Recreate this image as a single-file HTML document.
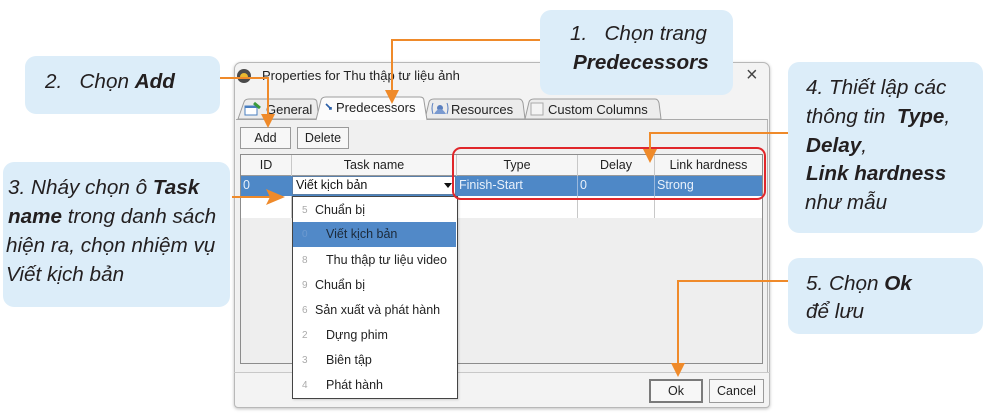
<!DOCTYPE html>
<html><head><meta charset="utf-8">
<style>
html,body{margin:0;padding:0;background:#fff;}
body{width:986px;height:419px;position:relative;overflow:hidden;font-family:"Liberation Sans","DejaVu Sans",sans-serif;}
.a{position:absolute;white-space:pre;}
.box{position:absolute;background:#dcedf9;border-radius:11px;}
.ct{position:absolute;white-space:pre;font-style:italic;font-size:20.7px;color:#231f20;line-height:29px;}
.ct b{font-weight:bold;}
.btn{position:absolute;border:1px solid #9a9a9a;background:#f7f7f7;font-size:12.5px;color:#222;text-align:center;box-sizing:border-box;}
.hd{position:absolute;top:155px;height:20px;line-height:20px;text-align:center;font-size:12.5px;color:#222;}
.it{position:absolute;left:293px;width:163px;height:25px;line-height:25px;font-size:12.5px;color:#222;}
.it .n{position:absolute;left:9px;font-size:10px;color:#aaa;}
.it .t{position:absolute;}
</style></head><body>

<!-- dialog -->
<div style="position:absolute;left:234px;top:62px;width:536px;height:346px;background:#f3f3f3;border:1px solid #b8b8b8;border-radius:7px 7px 4px 4px;box-shadow:0 1px 3px rgba(0,0,0,.25);box-sizing:border-box;"></div>
<!-- title icon -->
<div style="position:absolute;left:237px;top:69px;width:14px;height:14px;border-radius:50%;background:#4a4a4a;"></div>
<div style="position:absolute;left:240px;top:73px;width:8px;height:5px;border-radius:4px 4px 0 0;background:#e8b830;"></div>
<div class="a" style="left:262px;top:68px;font-size:13px;color:#222;">Properties for Thu thập tư liệu ảnh</div>
<div class="a" style="left:746px;top:64px;font-size:20px;color:#444;">×</div>

<!-- tab panel -->
<div style="position:absolute;left:236px;top:119px;width:532px;height:253px;background:#f0f0f0;border-top:1px solid #aaa;border-right:1px solid #b5b5b5;box-sizing:border-box;"></div>
<div style="position:absolute;left:234px;top:372px;width:536px;height:1px;background:#c8c8c8;"></div>

<svg width="986" height="419" style="position:absolute;left:0;top:0;" xmlns="http://www.w3.org/2000/svg">
  <path d="M238,119 L244,102 Q245,99 249,99 L313,99 Q317,99 317,103 L319,119 Z" fill="#ececec" stroke="#9c9c9c"/>
  <path d="M425,119 L429,102 Q430,99 434,99 L519,99 Q522,99 523,103 L525,119 Z" fill="#ececec" stroke="#9c9c9c"/>
  <path d="M525,119 L529,102 Q530,99 534,99 L655,99 Q658,99 659,103 L661,119 Z" fill="#ececec" stroke="#9c9c9c"/>
  <path d="M316,120 L321,100 Q322,97 326,97 L420,97 Q424,97 424,101 L427,120" fill="#fbfbfb" stroke="#9c9c9c"/>
  <!-- General icon -->
  <rect x="245" y="106" width="12" height="9" fill="#fff" stroke="#4a7fc0"/>
  <rect x="245" y="106" width="12" height="2" fill="#4a7fc0"/>
  <path d="M254,103 L260,108" stroke="#3a9a3a" stroke-width="3"/>
  <!-- predecessors icon -->
  <path d="M326,104 L331,109 M329,109 L331,109 L331,107" stroke="#2b5fa8" stroke-width="1.6" fill="none"/>
  <!-- resources icon -->
  <circle cx="440" cy="108" r="3" fill="#5a7fbf"/>
  <path d="M434,114 Q440,104 446,114" fill="#7a9ad0"/>
  <path d="M433,103 Q431,108 433,114 M447,103 Q449,108 447,114" stroke="#5a7fbf" fill="none"/>
  <!-- checkbox -->
  <rect x="531" y="103" width="12" height="12" fill="#f4f4f4" stroke="#aaa"/>
</svg>

<div class="a" style="left:266px;top:102px;font-size:13px;color:#222;">General</div>
<div class="a" style="left:336px;top:100px;font-size:13px;color:#222;">Predecessors</div>
<div class="a" style="left:451px;top:102px;font-size:13px;color:#222;">Resources</div>
<div class="a" style="left:548px;top:102px;font-size:13px;color:#222;">Custom Columns</div>

<!-- buttons -->
<div class="btn" style="left:240px;top:127px;width:51px;height:22px;line-height:20px;">Add</div>
<div class="btn" style="left:297px;top:127px;width:52px;height:22px;line-height:20px;">Delete</div>

<!-- table -->
<div style="position:absolute;left:240px;top:154px;width:523px;height:210px;background:#eeeeee;border:1px solid #8c8c8c;box-sizing:border-box;"></div>
<div style="position:absolute;left:241px;top:155px;width:521px;height:20px;background:#f6f6f6;border-bottom:1px solid #9a9a9a;"></div>
<div style="position:absolute;left:241px;top:196px;width:521px;height:22px;background:#fff;"></div>
<div style="position:absolute;left:291px;top:155px;width:1px;height:63px;background:#c8c8c8;"></div>
<div style="position:absolute;left:456px;top:155px;width:1px;height:63px;background:#c8c8c8;"></div>
<div style="position:absolute;left:577px;top:155px;width:1px;height:63px;background:#c8c8c8;"></div>
<div style="position:absolute;left:654px;top:155px;width:1px;height:63px;background:#c8c8c8;"></div>
<div class="hd" style="left:241px;width:50px;">ID</div>
<div class="hd" style="left:292px;width:164px;">Task name</div>
<div class="hd" style="left:457px;width:120px;">Type</div>
<div class="hd" style="left:578px;width:76px;">Delay</div>
<div class="hd" style="left:655px;width:107px;">Link hardness</div>
<!-- selected row -->
<div style="position:absolute;left:241px;top:176px;width:521px;height:20px;background:#4e88c7;"></div>
<div style="position:absolute;left:577px;top:176px;width:1px;height:20px;background:#9ab8dd;"></div>
<div style="position:absolute;left:654px;top:176px;width:1px;height:20px;background:#9ab8dd;"></div>
<div class="a" style="left:243px;top:178px;font-size:12.5px;color:#e8f0fa;">0</div>
<div style="position:absolute;left:292px;top:176px;width:164px;height:19px;background:#fff;border:1px solid #5a7fa8;box-sizing:border-box;"></div>
<div class="a" style="left:296px;top:178px;font-size:12.5px;color:#111;">Viết kịch bản</div>
<div style="position:absolute;left:444px;top:183px;width:0;height:0;border-left:4px solid transparent;border-right:4px solid transparent;border-top:5px solid #111;"></div>
<div class="a" style="left:459px;top:178px;font-size:12.5px;color:#e8f0fa;">Finish-Start</div>
<div class="a" style="left:580px;top:178px;font-size:12.5px;color:#e8f0fa;">0</div>
<div class="a" style="left:657px;top:178px;font-size:12.5px;color:#e8f0fa;">Strong</div>

<!-- Ok / Cancel -->
<div class="btn" style="left:649px;top:379px;width:54px;height:24px;line-height:20px;border:2px solid #7a7a7a;">Ok</div>
<div class="btn" style="left:709px;top:379px;width:55px;height:24px;line-height:22px;">Cancel</div>

<!-- dropdown list -->
<div style="position:absolute;left:292px;top:196px;width:166px;height:203px;background:#fff;border:1px solid #444;box-sizing:border-box;box-shadow:1px 1px 2px rgba(0,0,0,.15);"></div>
<div class="it" style="top:198px;"><span class="n">5</span><span class="t" style="left:22px;">Chuẩn bị</span></div>
<div class="it" style="top:222px;background:#5189c8;"><span class="n" style="color:#6d9ad0;">0</span><span class="t" style="left:33px;color:#1c2a3a;">Viết kịch bản</span></div>
<div class="it" style="top:248px;"><span class="n">8</span><span class="t" style="left:33px;">Thu thập tư liệu video</span></div>
<div class="it" style="top:273px;"><span class="n">9</span><span class="t" style="left:22px;">Chuẩn bị</span></div>
<div class="it" style="top:298px;"><span class="n">6</span><span class="t" style="left:22px;">Sản xuất và phát hành</span></div>
<div class="it" style="top:323px;"><span class="n">2</span><span class="t" style="left:33px;">Dựng phim</span></div>
<div class="it" style="top:348px;"><span class="n">3</span><span class="t" style="left:33px;">Biên tập</span></div>
<div class="it" style="top:373px;"><span class="n">4</span><span class="t" style="left:33px;">Phát hành</span></div>

<!-- callout boxes -->
<div class="box" style="left:540px;top:10px;width:193px;height:85px;"></div>
<div class="box" style="left:25px;top:56px;width:195px;height:58px;"></div>
<div class="box" style="left:3px;top:162px;width:227px;height:145px;"></div>
<div class="box" style="left:788px;top:62px;width:195px;height:171px;"></div>
<div class="box" style="left:788px;top:258px;width:195px;height:76px;"></div>

<div class="ct" style="left:570px;top:19px;">1.   Chọn trang</div>
<div class="ct" style="left:573px;top:48px;"><b>Predecessors</b></div>

<div class="ct" style="left:45px;top:67px;">2.   Chọn <b>Add</b></div>

<div class="ct" style="left:8px;top:173px;">3. Nháy chọn ô <b>Task</b></div>
<div class="ct" style="left:8px;top:202px;"><b>name</b> trong danh sách</div>
<div class="ct" style="left:6px;top:231px;">hiện ra, chọn nhiệm vụ</div>
<div class="ct" style="left:6px;top:260px;">Viết kịch bản</div>

<div class="ct" style="left:806px;top:73px;">4. Thiết lập các</div>
<div class="ct" style="left:806px;top:102px;">thông tin  <b>Type</b>,</div>
<div class="ct" style="left:806px;top:131px;"><b>Delay</b>,</div>
<div class="ct" style="left:806px;top:159px;"><b>Link hardness</b></div>
<div class="ct" style="left:805px;top:188px;">như mẫu</div>

<div class="ct" style="left:806px;top:269px;">5. Chọn <b>Ok</b></div>
<div class="ct" style="left:806px;top:297px;">để lưu</div>

<!-- connectors & red highlight -->
<svg width="986" height="419" style="position:absolute;left:0;top:0;" xmlns="http://www.w3.org/2000/svg">
  <rect x="453" y="148" width="312" height="51" rx="8" ry="8" fill="none" stroke="#e0262a" stroke-width="2"/>
  <g stroke="#ef8a2a" stroke-width="2" fill="none">
    <path d="M540,40 H392 V92"/>
    <path d="M220,78 H268 V116"/>
    <path d="M232,197 H270"/>
    <path d="M788,133 H650 V151"/>
    <path d="M788,281 H678 V365"/>
  </g>
  <g fill="#ef8a2a">
    <path d="M385,90 L399,90 L392,104 Z"/>
    <path d="M261,114 L275,114 L268,128 Z"/>
    <path d="M266,189 L285,197 L266,205 L270,197 Z"/>
    <path d="M643,149 L657,149 L650,163 Z"/>
    <path d="M671,363 L685,363 L678,377 Z"/>
  </g>
</svg>
</body></html>
